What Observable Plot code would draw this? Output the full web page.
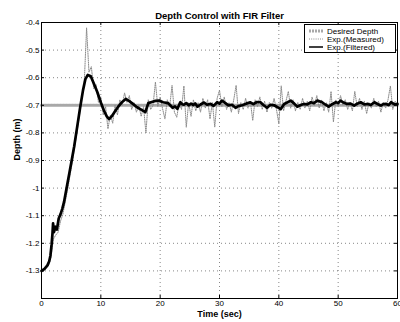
<!DOCTYPE html>
<html><head><meta charset="utf-8">
<script src="https://cdn.jsdelivr.net/npm/d3@7"></script>
<script src="https://cdn.jsdelivr.net/npm/@observablehq/plot@0.6"></script>
<style>body{margin:0;background:#fff} #chart{width:400px;height:322px}</style>
</head><body><div id="chart"></div>
<script>
const title = "Depth Control with FIR Filter";
const xLabel = "Time (sec)";
const yLabel = "Depth (m)";
const xTicks = [0, 10, 20, 30, 40, 50, 60];
const yTicks = [-0.4, -0.5, -0.6, -0.7, -0.8, -0.9, -1, -1.1, -1.2, -1.3, -1.4];
const yTickLabels = ["-0.4", "-0.5", "-0.6", "-0.7", "-0.8", "-0.9", "-1", "-1.1", "-1.2", "-1.3", ""];
const seriesNames = ["Desired Depth", "Exp.(Measured)", "Exp.(Filtered)"];
const desired = [[0, -0.7], [60, -0.7]];
const measured = [
[0,-1.305],[0.4,-1.300],[0.8,-1.290],[1.2,-1.280],[1.6,-1.250],[2.0,-1.185],[2.4,-1.170],[2.8,-1.160],
[3.2,-1.120],[3.6,-1.095],[4.0,-1.050],[4.4,-1.005],[4.8,-0.955],[5.2,-0.905],[5.6,-0.850],[6.0,-0.795],
[6.4,-0.735],[6.8,-0.670],[7.2,-0.620],[7.6,-0.420],[8.0,-0.580],[8.4,-0.560],[8.8,-0.640],[9.2,-0.625],
[9.6,-0.690],[10.0,-0.670],[10.4,-0.735],[10.8,-0.705],[11.2,-0.785],[11.6,-0.735],[12.0,-0.765],[12.4,-0.700],
[12.8,-0.735],[13.2,-0.680],[13.6,-0.700],[14.0,-0.655],[14.4,-0.690],[14.8,-0.665],[15.2,-0.715],[15.6,-0.690],
[16.0,-0.725],[16.4,-0.700],[16.8,-0.740],[17.2,-0.705],[17.6,-0.800],[18.0,-0.680],[18.4,-0.715],[18.8,-0.700],
[19.2,-0.616],[19.6,-0.705],[20.0,-0.670],[20.4,-0.712],[20.8,-0.749],[21.2,-0.680],[21.6,-0.705],[22.0,-0.628],
[22.4,-0.725],[22.8,-0.743],[23.2,-0.690],[23.6,-0.715],[24.0,-0.630],[24.4,-0.779],[24.8,-0.690],[25.2,-0.740],
[25.6,-0.680],[26.0,-0.720],[26.4,-0.690],[26.8,-0.725],[27.2,-0.675],[27.6,-0.710],[28.0,-0.680],[28.4,-0.749],
[28.8,-0.690],[29.2,-0.779],[29.6,-0.675],[30.0,-0.645],[30.4,-0.705],[30.8,-0.670],[31.2,-0.715],[31.6,-0.690],
[32.0,-0.725],[32.4,-0.680],[32.8,-0.628],[33.2,-0.730],[33.6,-0.690],[34.0,-0.715],[34.4,-0.675],[34.8,-0.710],
[35.2,-0.685],[35.6,-0.755],[36.0,-0.680],[36.4,-0.705],[36.8,-0.670],[37.2,-0.715],[37.6,-0.685],[38.0,-0.725],
[38.4,-0.690],[38.8,-0.710],[39.2,-0.675],[39.6,-0.715],[40.0,-0.767],[40.4,-0.630],[40.8,-0.720],[41.2,-0.685],
[41.6,-0.650],[42.0,-0.710],[42.4,-0.680],[42.8,-0.720],[43.2,-0.690],[43.6,-0.715],[44.0,-0.675],[44.4,-0.710],
[44.8,-0.685],[45.2,-0.720],[45.6,-0.670],[46.0,-0.700],[46.4,-0.665],[46.8,-0.710],[47.2,-0.680],[47.6,-0.720],
[48.0,-0.690],[48.4,-0.725],[48.8,-0.650],[49.2,-0.760],[49.6,-0.680],[50.0,-0.705],[50.4,-0.665],[50.8,-0.700],
[51.2,-0.680],[51.6,-0.715],[52.0,-0.690],[52.4,-0.720],[52.8,-0.650],[53.2,-0.705],[53.6,-0.675],[54.0,-0.715],
[54.4,-0.685],[54.8,-0.730],[55.2,-0.690],[55.6,-0.710],[56.0,-0.675],[56.4,-0.705],[56.8,-0.685],[57.2,-0.725],
[57.6,-0.690],[58.0,-0.710],[58.4,-0.680],[58.8,-0.630],[59.2,-0.715],[59.6,-0.685],[60.0,-0.700]
];
const filtered = [
[0,-1.300],[0.5,-1.293],[1.0,-1.280],[1.3,-1.265],[1.5,-1.245],[1.7,-1.205],[1.85,-1.165],[1.95,-1.128],
[2.1,-1.160],[2.35,-1.140],[2.6,-1.150],[2.9,-1.110],[3.2,-1.095],[3.5,-1.075],[3.8,-1.050],[4.1,-1.015],
[4.4,-0.980],[4.7,-0.945],[5.0,-0.910],[5.5,-0.850],[6.0,-0.780],[6.5,-0.710],[7.0,-0.645],[7.4,-0.605],
[7.8,-0.590],[8.3,-0.595],[8.8,-0.620],[9.4,-0.652],[10.0,-0.690],[10.5,-0.718],[11.0,-0.740],[11.4,-0.750],
[11.9,-0.738],[12.4,-0.722],[12.9,-0.706],[13.5,-0.690],[14.2,-0.677],[14.8,-0.685],[15.4,-0.695],[16.1,-0.707],
[16.8,-0.716],[17.5,-0.725],[18.0,-0.692],[18.6,-0.688],[19.2,-0.684],[19.8,-0.683],[20.5,-0.689],[21.3,-0.692],
[21.7,-0.700],[22.1,-0.709],[22.5,-0.704],[22.9,-0.713],[23.4,-0.689],[23.7,-0.696],[24.0,-0.698],[24.4,-0.692],
[24.8,-0.700],[25.2,-0.694],[25.6,-0.699],[25.9,-0.693],[26.3,-0.705],[26.8,-0.697],[27.4,-0.690],[27.9,-0.698],
[28.5,-0.695],[29.0,-0.702],[29.6,-0.689],[30.0,-0.694],[30.4,-0.683],[31.0,-0.692],[31.5,-0.700],[32.1,-0.698],
[32.7,-0.709],[33.2,-0.703],[33.8,-0.700],[34.5,-0.694],[35.2,-0.689],[35.7,-0.696],[36.3,-0.688],[36.9,-0.689],
[37.4,-0.699],[38.0,-0.709],[38.6,-0.698],[39.2,-0.700],[39.7,-0.706],[40.3,-0.714],[40.9,-0.695],[41.4,-0.690],
[42.0,-0.683],[42.6,-0.694],[43.1,-0.705],[43.7,-0.699],[44.2,-0.695],[44.8,-0.697],[45.4,-0.689],[45.9,-0.692],
[46.5,-0.683],[47.3,-0.689],[47.8,-0.697],[48.4,-0.705],[49.0,-0.696],[49.6,-0.689],[50.0,-0.692],[50.4,-0.683],
[50.9,-0.690],[51.5,-0.695],[52.1,-0.694],[52.7,-0.701],[53.2,-0.694],[53.8,-0.689],[54.4,-0.697],[55.0,-0.695],
[55.5,-0.699],[56.1,-0.689],[56.6,-0.695],[57.2,-0.701],[57.6,-0.696],[58.1,-0.695],[58.5,-0.699],[58.9,-0.689],
[59.5,-0.697],[60.0,-0.695]
];

const W = 400, H = 322, ML = 41, MR = 3, MT = 22, MB = 24;
const plotW = W - ML - MR, plotH = H - MT - MB, tk = 3;
const font = "'Liberation Sans', Arial, Helvetica, sans-serif";
const gridStyle = {stroke: "#000", strokeOpacity: 0.6, strokeDasharray: "1,3", strokeWidth: 0.8};

const plot = Plot.plot({
  width: W, height: H,
  marginLeft: ML, marginRight: MR, marginTop: MT, marginBottom: MB,
  style: {fontFamily: font, fontSize: "8px", color: "#000", background: "#fff", overflow: "visible"},
  x: {domain: [0, 60], ticks: xTicks, tickSize: 0, tickPadding: 2, label: null, tickFormat: d => String(d)},
  y: {domain: [-1.4, -0.4], ticks: yTicks, tickSize: 0, tickPadding: 2, label: null,
      tickFormat: d => yTickLabels[yTicks.indexOf(d)]},
  marks: [
    Plot.ruleX(xTicks.slice(1, -1), {x: d => d, ...gridStyle}),
    Plot.ruleY(yTicks.slice(1, -1), {y: d => d, ...gridStyle}),
    Plot.line(desired, {x: d => d[0], y: d => d[1], stroke: "#a8a8a8", strokeWidth: 3, strokeDasharray: "2,1"}),
    Plot.line(measured, {x: d => d[0], y: d => d[1], stroke: "#8a8a8a", strokeWidth: 1, strokeDasharray: "1,1.2"}),
    Plot.line(filtered, {x: d => d[0], y: d => d[1], stroke: "#000", strokeWidth: 2.7, strokeLinejoin: "round"}),
    Plot.frame({stroke: "#000"}),
    Plot.tickX(xTicks, {x: d => d, insetTop: plotH - tk, stroke: "#000"}),
    Plot.tickX(xTicks, {x: d => d, insetBottom: plotH - tk, stroke: "#000"}),
    Plot.tickY(yTicks, {y: d => d, insetRight: plotW - tk, stroke: "#000"}),
    Plot.tickY(yTicks, {y: d => d, insetLeft: plotW - tk, stroke: "#000"}),
    Plot.text([title], {text: d => d, frameAnchor: "top", dy: -10, fontWeight: "bold", fontSize: 9.5}),
    Plot.text([xLabel], {text: d => d, frameAnchor: "bottom", dy: 18, fontWeight: "bold", fontSize: 9}),
    Plot.text([yLabel], {text: d => d, frameAnchor: "left", dx: -24, rotate: -90, fontWeight: "bold", fontSize: 9})
  ]
});
document.getElementById("chart").appendChild(plot);

// legend
const svg = d3.select(plot);
const lg = svg.append("g").attr("font-family", font).attr("font-size", 8).attr("text-anchor", "start");
lg.append("rect").attr("x", 304.5).attr("y", 24.5).attr("width", 91).attr("height", 28)
  .attr("fill", "#fff").attr("stroke", "#000");
const legendStyles = [
  {stroke: "#a8a8a8", width: 3, dash: "2,1"},
  {stroke: "#8a8a8a", width: 1, dash: "1,1.2"},
  {stroke: "#000", width: 1.5, dash: null}
];
seriesNames.forEach((name, i) => {
  const y = 31 + i * 8;
  const s = legendStyles[i];
  const ln = lg.append("line").attr("x1", 309).attr("x2", 323).attr("y1", y).attr("y2", y)
    .attr("stroke", s.stroke).attr("stroke-width", s.width);
  if (s.dash) ln.attr("stroke-dasharray", s.dash);
  lg.append("text").attr("x", 327).attr("y", y).attr("dy", "0.35em").attr("text-anchor", "start").text(name);
});
</script>
</body></html>
